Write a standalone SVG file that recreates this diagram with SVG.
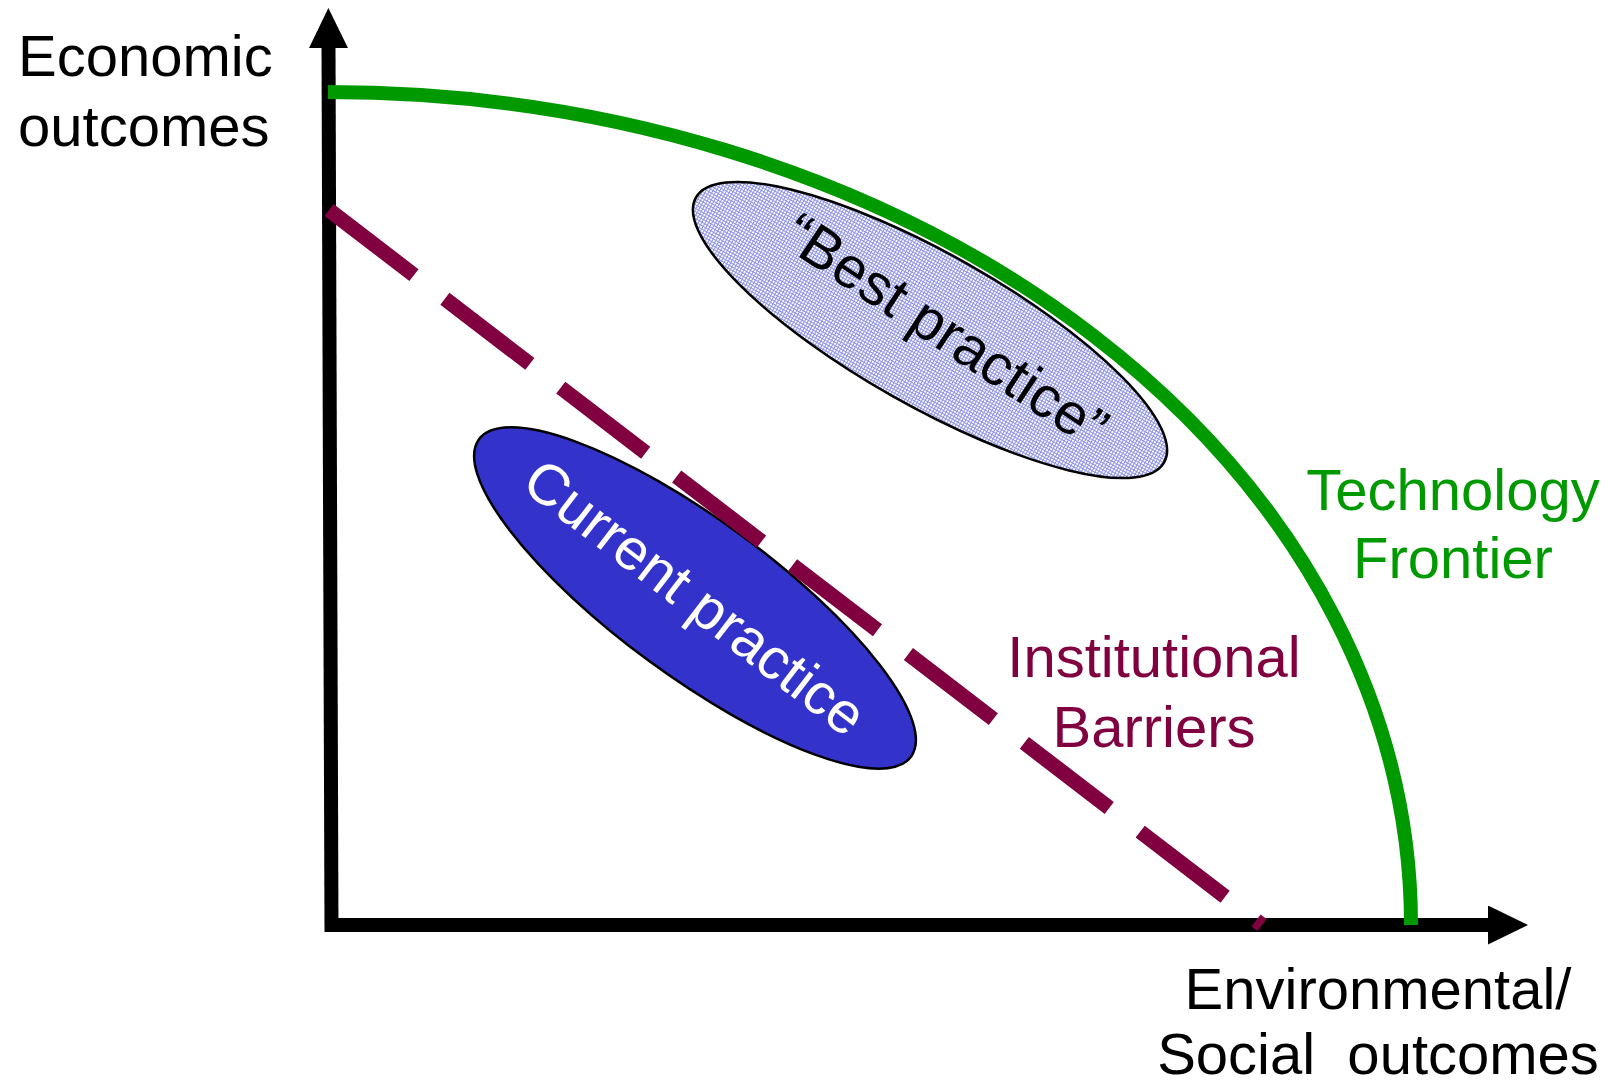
<svg xmlns="http://www.w3.org/2000/svg" width="1609" height="1083" viewBox="0 0 1609 1083">
  <style>
    .lbl { font-family: "Liberation Sans", Arial, sans-serif; font-size: 58px; }
    .axis { stroke: #000; stroke-width: 14; fill: none; }
    .frontier { stroke: #009900; stroke-width: 14; fill: none; }
    .barrier { stroke: #800040; stroke-width: 15; fill: none; stroke-dasharray: 107 39; }
    .blob { stroke: #000; stroke-width: 2.5; }
  </style>
  <defs>
    <marker id="arrow" markerUnits="userSpaceOnUse" markerWidth="41" markerHeight="40" refX="0" refY="19.5" orient="auto">
      <path d="M0,0 L40,19.5 L0,39 Z" fill="#000"/>
    </marker>
    <pattern id="hatch" width="3" height="3" patternUnits="userSpaceOnUse">
      <rect width="3" height="3" fill="#ffffff"/>
      <rect width="3" height="1" fill="#8c91e6"/>
      <rect width="1" height="3" fill="#8c91e6"/>
    </pattern>
  </defs>

  <rect width="1609" height="1083" fill="#ffffff"/>

  <!-- outcome regions -->
  <g id="best-practice">
    <ellipse class="blob" cx="930" cy="330" rx="269" ry="76" transform="rotate(29.5 930 330)" fill="url(#hatch)"/>
    <text class="lbl" fill="#000" text-anchor="middle" transform="translate(935 347) rotate(33.5)">“Best practice”</text>
  </g>

  <g id="current-practice">
    <ellipse class="blob" cx="695" cy="598" rx="268" ry="78" transform="rotate(36.3 695 598)" fill="#3333cc"/>
    <text class="lbl" fill="#ffffff" text-anchor="middle" transform="translate(683 613) rotate(37.5)">Current practice</text>
  </g>

  <!-- axes, frontier curve and barrier line -->
  <g id="connectors">
    <line class="axis" x1="325" y1="925" x2="1488" y2="925" marker-end="url(#arrow)"/>
    <line class="axis" x1="331.5" y1="932" x2="328.5" y2="48" stroke-width="13" marker-end="url(#arrow)"/>
    <path class="frontier" d="M328 92 A1083 833 0 0 1 1411 925"/>
    <line class="barrier" x1="329" y1="210" x2="1262" y2="925"/>
  </g>

  <g id="label-economic">
    <text class="lbl" fill="#000" x="18" y="76">Economic</text>
    <text class="lbl" fill="#000" x="18" y="146">outcomes</text>
  </g>

  <g id="label-frontier">
    <text class="lbl" fill="#009900" text-anchor="middle" x="1453" y="510">Technology</text>
    <text class="lbl" fill="#009900" text-anchor="middle" x="1453" y="578">Frontier</text>
  </g>

  <g id="label-barriers">
    <text class="lbl" fill="#800040" text-anchor="middle" x="1154" y="677">Institutional</text>
    <text class="lbl" fill="#800040" text-anchor="middle" x="1154" y="747">Barriers</text>
  </g>

  <g id="label-environmental">
    <text class="lbl" fill="#000" text-anchor="middle" x="1378" y="1009">Environmental/</text>
    <text class="lbl" fill="#000" text-anchor="middle" x="1378" y="1074" xml:space="preserve">Social  outcomes</text>
  </g>
</svg>
